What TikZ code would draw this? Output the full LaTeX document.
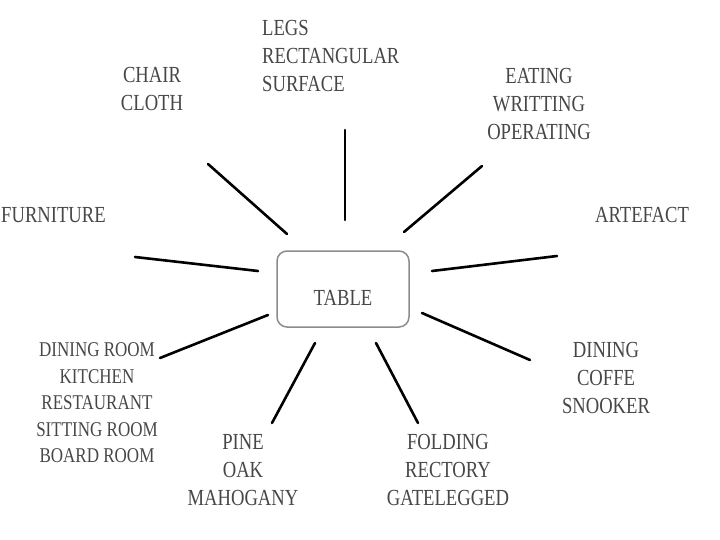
\documentclass[tikz,border=0pt]{standalone}
\usepackage{fontspec}
\setmainfont[FakeStretch=0.81]{Liberation Serif}

\begin{document}
\begin{tikzpicture}[x=1pt,y=-1pt]

\tikzstyle word=[text=black!72, font=\fontsize{23}{28}\selectfont, align=center, inner sep=0pt]
\tikzstyle smallword=[word, font=\fontsize{21}{26.5}\selectfont]
\tikzstyle hub=[draw=black!45, line width=1.5pt, rounded corners=10pt, minimum width=132pt, minimum height=76pt, text=black!72, font=\fontsize{23}{28}\selectfont, text height=32pt, text depth=0pt]
\tikzstyle spoke=[line width=2.6pt, line cap=round]

\useasboundingbox (0,0) rectangle (720,540);

\node (table) [hub] at (343,289) {TABLE};
\node (legs) [word, align=left, anchor=west] at (262,56) {LEGS\\RECTANGULAR\\SURFACE};
\node (chair) [word] at (152,89) {CHAIR\\CLOTH};
\node (eating) [word] at (539,104) {EATING\\WRITTING\\OPERATING};
\node (furniture) [word, anchor=west] at (1,215) {FURNITURE};
\node (artefact) [word] at (642,215) {ARTEFACT};
\node (rooms) [smallword] at (97,403) {DINING ROOM\\KITCHEN\\RESTAURANT\\SITTING ROOM\\BOARD ROOM};
\node (wood) [word] at (243,470) {PINE\\OAK\\MAHOGANY};
\node (kinds) [word] at (448,470) {FOLDING\\RECTORY\\GATELEGGED};
\node (games) [word] at (606,378) {DINING\\COFFE\\SNOOKER};

\coordinate (legs-in) at (345,220);
\coordinate (legs-out) at (345,130);
\coordinate (chair-in) at (287,234);
\coordinate (chair-out) at (208,164);
\coordinate (eating-in) at (404,232);
\coordinate (eating-out) at (482,166);
\coordinate (furniture-in) at (258,271);
\coordinate (furniture-out) at (135,257);
\coordinate (artefact-in) at (432,271);
\coordinate (artefact-out) at (557,256);
\coordinate (rooms-in) at (268,315);
\coordinate (rooms-out) at (160,358);
\coordinate (wood-in) at (315,343);
\coordinate (wood-out) at (272,423);
\coordinate (kinds-in) at (376,343);
\coordinate (kinds-out) at (418,423);
\coordinate (games-in) at (422,313);
\coordinate (games-out) at (530,360);

\draw [spoke] (legs-in) -- (legs-out);
\draw [spoke] (chair-in) -- (chair-out);
\draw [spoke] (eating-in) -- (eating-out);
\draw [spoke] (furniture-in) -- (furniture-out);
\draw [spoke] (artefact-in) -- (artefact-out);
\draw [spoke] (rooms-in) -- (rooms-out);
\draw [spoke] (wood-in) -- (wood-out);
\draw [spoke] (kinds-in) -- (kinds-out);
\draw [spoke] (games-in) -- (games-out);

\end{tikzpicture}
\end{document}
